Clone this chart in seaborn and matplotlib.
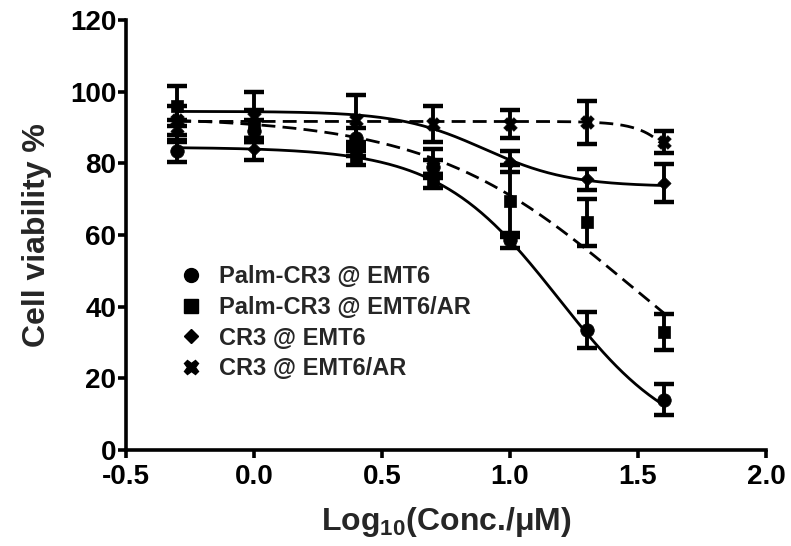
import numpy as np
import pandas as pd
import matplotlib
matplotlib.use("Agg")
import matplotlib.pyplot as plt
from matplotlib.lines import Line2D
import seaborn as sns

# ---------------- data ----------------
log_conc = [-0.3, 0.0, 0.4, 0.7, 1.0, 1.3, 1.6]
series_names = ["Palm-CR3 @ EMT6", "Palm-CR3 @ EMT6/AR", "CR3 @ EMT6", "CR3 @ EMT6/AR"]

palm_emt6 = [83.5, 89.0, 87.0, 79.0, 58.5, 33.5, 14.0]
palm_emt6_err = [3.0, 3.0, 3.0, 2.0, 2.0, 5.0, 4.3]
palm_emt6ar = [96.0, 91.0, 81.5, 75.0, 69.5, 63.5, 33.0]
palm_emt6ar_err = [5.5, 4.0, 2.0, 2.0, 10.0, 6.5, 5.0]
cr3_emt6 = [89.0, 84.0, 84.0, 80.0, 80.5, 75.5, 74.5]
cr3_emt6_err = [3.0, 3.0, 2.0, 4.0, 3.0, 3.0, 5.3]
cr3_emt6ar = [92.0, 93.0, 92.0, 91.0, 91.0, 91.5, 86.0]
cr3_emt6ar_err = [4.0, 7.0, 7.0, 5.0, 4.0, 6.0, 3.0]

# 4-parameter logistic fit parameters (top, bottom, logIC50, hill) per series
fit_top = [84.5, 93.0, 94.5, 91.7]
fit_bottom = [0.0, 0.0, 73.5, 0.0]
fit_logic50 = [1.19, 1.46, 0.90, 1.81]
fit_hill = [1.85, 1.11, 2.6, 5.2]

x_ticks = [-0.5, 0.0, 0.5, 1.0, 1.5, 2.0]
y_ticks = [0, 20, 40, 60, 80, 100, 120]

values = [palm_emt6, palm_emt6ar, cr3_emt6, cr3_emt6ar]
errors = [palm_emt6_err, palm_emt6ar_err, cr3_emt6_err, cr3_emt6ar_err]
markers = ["o", "s", "D", "X"]
msizes = [95, 80, 45, 95]
line_styles = ["-", (0, (5, 2.6)), "-", (0, (5, 2.6))]

# ---------------- style ----------------
sns.set_style("ticks")
plt.rcParams["font.family"] = ["Liberation Sans", "DejaVu Sans"]
plt.rcParams["font.weight"] = "bold"
plt.rcParams["mathtext.fontset"] = "custom"
plt.rcParams["mathtext.rm"] = "Liberation Sans:bold"
plt.rcParams["mathtext.default"] = "rm"

fig = plt.figure(figsize=(7.91, 5.46), dpi=100)
ax = fig.add_axes([126 / 791, 1 - 450 / 546, 640 / 791, 430 / 546])

xfine = np.linspace(min(log_conc), max(log_conc), 300)
for i, name in enumerate(series_names):
    yfit = fit_bottom[i] + (fit_top[i] - fit_bottom[i]) / (
        1 + 10 ** ((xfine - fit_logic50[i]) * fit_hill[i]))
    sns.lineplot(x=xfine, y=yfit, ax=ax, color="black", lw=2.0,
                 linestyle=line_styles[i], legend=False)
    ax.errorbar(log_conc, values[i], yerr=errors[i], fmt="none",
                ecolor="black", elinewidth=2.8, capsize=7.5, capthick=3.2, zorder=3)
    sns.scatterplot(x=log_conc, y=values[i], ax=ax, marker=markers[i],
                    s=msizes[i], color="black", edgecolor="black",
                    linewidth=0.5, zorder=4, legend=False)

ax.set_xlim(-0.5, 2.0)
ax.set_ylim(0, 120)
ax.set_xticks(x_ticks)
ax.set_xticklabels([f"{t:.1f}" for t in x_ticks])
ax.set_yticks(y_ticks)
ax.set_yticklabels([str(t) for t in y_ticks])
for s in ["top", "right"]:
    ax.spines[s].set_visible(False)
for s in ["left", "bottom"]:
    ax.spines[s].set_linewidth(2.6)
    ax.spines[s].set_color("black")
ax.tick_params(axis="both", direction="out", length=6, width=2.6,
               labelsize=20, colors="black")
ax.tick_params(axis="y", pad=1)
ax.tick_params(axis="x", pad=4)
for lab in ax.get_xticklabels() + ax.get_yticklabels():
    lab.set_fontweight("bold")

ax.set_xlabel("Log$_{10}$(Conc./μM)", fontsize=23, fontweight="bold", labelpad=11)
ax.set_ylabel("Cell viability %", fontsize=23, fontweight="bold", labelpad=13)

handles = [Line2D([0], [0], marker=m, color="black", linestyle="none",
                  markersize=ms, markeredgecolor="black")
           for m, ms in zip(markers, [10, 9.5, 7, 10.5])]
ax.legend(handles, series_names, loc="upper left",
          bbox_to_anchor=((180 - 126) / 640, (450 - 265) / 430),
          frameon=False, handlelength=0.9, handletextpad=0.75,
          labelspacing=0.33, borderpad=0, borderaxespad=0,
          prop={"weight": "bold", "size": 17})

fig.savefig("out.png", dpi=100, facecolor="white")
